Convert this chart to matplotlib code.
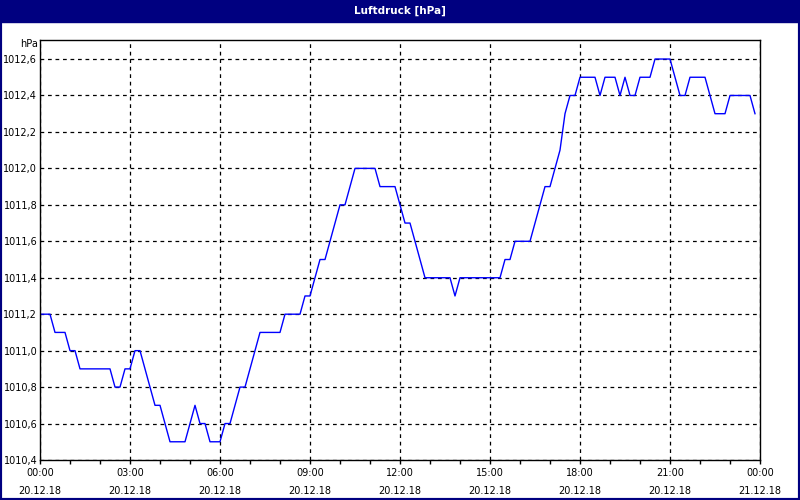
import matplotlib
matplotlib.use('Agg')
import matplotlib.pyplot as plt
from matplotlib.patches import Rectangle

# pressure readings (breakpoints of the 10-min series), time as HH:MM on 20.12.18
times = ['00:00', '00:20', '00:30', '00:50', '01:00', '01:10', '01:20', '02:20', '02:30', '02:40',
         '02:50', '03:00', '03:10', '03:20', '03:50', '04:00', '04:20', '04:50', '05:10', '05:20',
         '05:30', '05:40', '06:00', '06:10', '06:20', '06:40', '06:50', '07:20', '08:00', '08:10',
         '08:40', '08:50', '09:00', '09:20', '09:30', '10:00', '10:10', '10:30', '11:10', '11:20',
         '11:50', '12:10', '12:20', '12:50', '13:40', '13:50', '14:00', '15:20', '15:30', '15:40',
         '15:50', '16:20', '16:50', '17:00', '17:10', '17:20', '17:30', '17:40', '17:50', '18:00',
         '18:30', '18:40', '18:50', '19:10', '19:20', '19:30', '19:40', '19:50', '20:00', '20:20',
         '20:30', '21:00', '21:20', '21:30', '21:40', '22:10', '22:30', '22:50', '23:00', '23:40',
         '23:50']
pressure = [1011.2, 1011.2, 1011.1, 1011.1, 1011.0, 1011.0, 1010.9, 1010.9, 1010.8, 1010.8,
            1010.9, 1010.9, 1011.0, 1011.0, 1010.7, 1010.7, 1010.5, 1010.5, 1010.7, 1010.6,
            1010.6, 1010.5, 1010.5, 1010.6, 1010.6, 1010.8, 1010.8, 1011.1, 1011.1, 1011.2,
            1011.2, 1011.3, 1011.3, 1011.5, 1011.5, 1011.8, 1011.8, 1012.0, 1012.0, 1011.9,
            1011.9, 1011.7, 1011.7, 1011.4, 1011.4, 1011.3, 1011.4, 1011.4, 1011.5, 1011.5,
            1011.6, 1011.6, 1011.9, 1011.9, 1012.0, 1012.1, 1012.3, 1012.4, 1012.4, 1012.5,
            1012.5, 1012.4, 1012.5, 1012.5, 1012.4, 1012.5, 1012.4, 1012.4, 1012.5, 1012.5,
            1012.6, 1012.6, 1012.4, 1012.4, 1012.5, 1012.5, 1012.3, 1012.3, 1012.4, 1012.4,
            1012.3]

yticks = [1010.4, 1010.6, 1010.8, 1011.0, 1011.2, 1011.4, 1011.6, 1011.8, 1012.0, 1012.2, 1012.4, 1012.6]
xtick_hours = [0, 3, 6, 9, 12, 15, 18, 21, 24]
xtick_labels = ['00:00\n20.12.18', '03:00\n20.12.18', '06:00\n20.12.18', '09:00\n20.12.18',
                '12:00\n20.12.18', '15:00\n20.12.18', '18:00\n20.12.18', '21:00\n20.12.18',
                '00:00\n21.12.18']
title = 'Luftdruck [hPa]'
unit = 'hPa'

navy = '#000080'

def to_hours(t):
    hh, mm = t.split(':')
    return int(hh) + int(mm) / 60.0

hours = [to_hours(t) for t in times]

plt.rcParams['font.family'] = ['DejaVu Sans']
fig = plt.figure(figsize=(8, 5), dpi=100)
fig.patch.set_facecolor('white')

# window frame + title bar
fig.patches.append(Rectangle((0, 0), 1, 1, transform=fig.transFigure, fill=False,
                             edgecolor=navy, linewidth=3))
fig.patches.append(Rectangle((0, 1 - 22 / 500), 1, 22 / 500, transform=fig.transFigure,
                             facecolor=navy, edgecolor=navy))
fig.text(0.5, 1 - 11 / 500, title, color='white', fontsize=7.5, fontweight='bold',
         ha='center', va='center')

ax = fig.add_axes([40 / 800, 40 / 500, 720 / 800, 420 / 500])
ax.plot(hours, pressure, color='#0000ff', linewidth=1)

ax.set_xlim(0, 24)
ax.set_ylim(1010.4, 1012.6 + 19 / 182)
ax.set_yticks(yticks)
ax.set_yticklabels([('%.1f' % v).replace('.', ',') for v in yticks])
ax.set_xticks(xtick_hours)
ax.set_xticklabels(xtick_labels, linespacing=1.9)
ax.set_xticks(range(0, 25), minor=True)
ax.tick_params(axis='y', length=0, pad=2, labelsize=7, colors='black')
ax.tick_params(axis='x', which='both', length=3, width=1, pad=3, labelsize=7, direction='out')
ax.grid(True, which='major', color='black', linestyle=(0, (3, 3)), linewidth=0.9)

for s in ax.spines.values():
    s.set_linewidth(1)
    s.set_color('black')

ax.text(-0.003, 1012.6 + 15 / 182, unit, transform=ax.get_yaxis_transform(),
        ha='right', va='center', fontsize=7)

fig.savefig('out.png', dpi=100)
